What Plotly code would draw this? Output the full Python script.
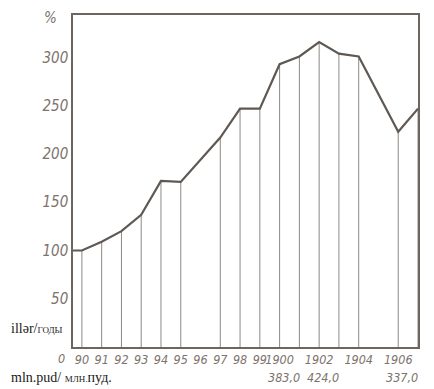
import plotly.graph_objects as go

# years with a value (1896 and 1905 have none in the source)
years = [1890, 1891, 1892, 1893, 1894, 1895, 1897, 1898, 1899,
         1900, 1901, 1902, 1903, 1904, 1906, 1907]
# index, 1890 = 100 %
pct = [100, 109, 120, 137, 172, 171, 217, 247, 247,
       293, 301, 316, 304, 301, 223, 247]

year_ticks = [1890, 1891, 1892, 1893, 1894, 1895, 1896, 1897, 1898, 1899,
              1900, 1902, 1904, 1906]
year_labels = ["90", "91", "92", "93", "94", "95", "96", "97", "98", "99",
               "1900", "1902", "1904", "1906"]

pud_years = [1900, 1902, 1906]
pud_labels = ["383,0", "424,0", "337,0"]

y_ticks = [50, 100, 150, 200, 250, 300]

x_range = [1889.55, 1907]
y_range = [0, 344]

fam = "Liberation Sans Narrow, DejaVu Sans Condensed, sans-serif"
num_font = dict(family=fam, size=15, color="#7d736c", style="italic")
xnum_font = dict(family=fam, size=12.5, color="#7d736c", style="italic")
serif_font = dict(family="Liberation Serif, serif", size=14, color="#1a1a1a")

fig = go.Figure()

# vertical drop lines from each point to the axis
drop_x, drop_y = [], []
for yr, v in zip(years, pct):
    drop_x += [yr, yr, None]
    drop_y += [0, v, None]
fig.add_trace(go.Scatter(x=drop_x, y=drop_y, mode="lines",
                         line=dict(color="#8e8883", width=1), hoverinfo="skip"))

# the curve, starting at the axis with the 1890 level
fig.add_trace(go.Scatter(x=[x_range[0]] + years, y=[pct[0]] + pct, mode="lines",
                         line=dict(color="#5f5853", width=2.2)))

# page body has an 8px margin, so the figure is 8px smaller and margins shrink
fig.update_layout(
    width=426, height=381,
    margin=dict(l=65, r=16, t=5, b=42),
    plot_bgcolor="white", paper_bgcolor="white",
    showlegend=False,
)
fig.update_xaxes(range=x_range, tickvals=year_ticks, ticktext=year_labels,
                 showgrid=False, zeroline=False, showline=True, mirror=True,
                 linecolor="#6d6560", linewidth=1.5, ticks="", tickfont=xnum_font,
                 tickangle=0)
fig.update_yaxes(range=y_range, tickvals=y_ticks, showgrid=False, zeroline=False,
                 showline=True, mirror=True, linecolor="#6d6560", linewidth=1.5,
                 ticks="", tickfont=num_font)

ann = []
ann.append(dict(text="%", xref="paper", yref="paper", x=-0.064, y=0.99,
                xanchor="center", yanchor="middle", showarrow=False, font=num_font))
ann.append(dict(text="0", xref="paper", yref="paper", x=-0.032, y=-0.036,
                xanchor="center", yanchor="middle", showarrow=False, font=xnum_font))
for yr, t in zip(pud_years, pud_labels):
    ann.append(dict(text=t, xref="x", yref="paper", x=yr, y=-0.093,
                    xanchor="center", yanchor="middle", xshift=4,
                    showarrow=False, font=xnum_font))
ann.append(dict(text="illər/<span style='font-size:9px'>ГОДЫ</span>",
                xref="paper", yref="paper", x=-0.186, y=0.057,
                xanchor="left", yanchor="middle", showarrow=False, font=serif_font))
ann.append(dict(text="mln.pud/ <span style='font-size:9px'>МЛН.</span>пуд.",
                xref="paper", yref="paper", x=-0.186, y=-0.093,
                xanchor="left", yanchor="middle", showarrow=False, font=serif_font))
fig.update_layout(annotations=ann)

fig.write_html("out.html")
